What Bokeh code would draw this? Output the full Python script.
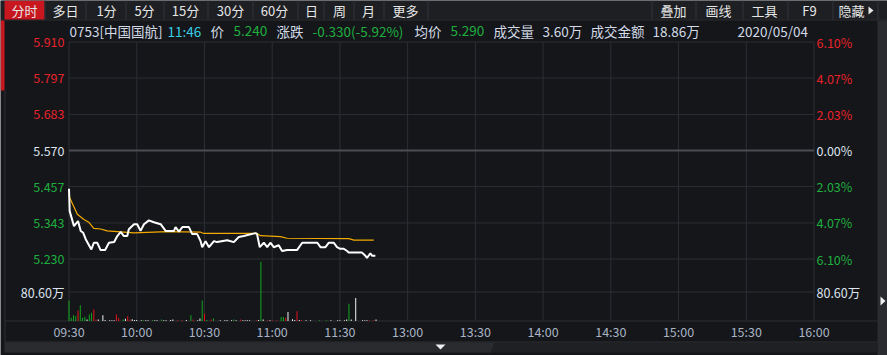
from bokeh.plotting import figure
from bokeh.models import Range1d
from bokeh.core.properties import value
from bokeh.embed import file_html
from bokeh.resources import INLINE

# ---------------- data ----------------
stock_title = "0753[中国国航]"
quote_time = "11:46"
last_price = "5.240"
change_text = "-0.330(-5.92%)"
avg_price_text = "5.290"
volume_text = "3.60万"
amount_text = "18.86万"
date_text = "2020/05/04"

tabs_left = ["分时", "多日", "1分", "5分", "15分", "30分", "60分", "日", "周", "月", "更多"]
tabs_right = ["叠加", "画线", "工具", "F9", "隐藏"]

prev_close = 5.570
price_ticks = [5.910, 5.797, 5.683, 5.570, 5.457, 5.343, 5.230]
price_tick_labels = ["5.910", "5.797", "5.683", "5.570", "5.457", "5.343", "5.230"]
pct_tick_labels = ["6.10%", "4.07%", "2.03%", "0.00%", "2.03%", "4.07%", "6.10%"]
vol_tick = 80.60
vol_tick_label = "80.60万"
time_labels = ["09:30", "10:00", "10:30", "11:00", "11:30", "13:00",
               "13:30", "14:00", "14:30", "15:00", "15:30", "16:00"]
time_minutes = [0, 30, 60, 90, 120, 150, 180, 210, 240, 270, 300, 330]

price_minute = [0, 0.3, 2.2, 4, 5.2, 6.3, 7.4, 9.9, 11, 12.5, 14, 16, 17.7, 20, 21.4,
                22.9, 24.3, 25.8, 26.5, 28.8, 30.2, 31.7, 33.2, 35.4, 37.6, 40.6, 42.8,
                46.5, 47.2, 48.7, 50.2, 53.1, 54.6, 56.8, 58.3, 59, 60.5, 62, 64.2, 65.6,
                70.1, 73, 75.2, 77.4, 82.6, 83.3, 84.5, 86.3, 87.8, 89.2, 90.7, 92.9,
                94.4, 96.6, 101, 103.3, 110, 111.4, 113.6, 115.1, 117.3, 118.7, 120.2,
                121.7, 123.2, 123.9, 129.8, 131.3, 132, 133.5, 134.3, 135.7]
price_value = [5.450, 5.380, 5.333, 5.349, 5.318, 5.312, 5.292, 5.260, 5.281, 5.281,
               5.258, 5.258, 5.281, 5.283, 5.302, 5.315, 5.302, 5.302, 5.323, 5.339,
               5.339, 5.318, 5.339, 5.351, 5.345, 5.339, 5.318, 5.318, 5.330, 5.316,
               5.330, 5.330, 5.308, 5.308, 5.286, 5.267, 5.286, 5.267, 5.286, 5.283,
               5.289, 5.283, 5.299, 5.302, 5.311, 5.308, 5.267, 5.281, 5.267, 5.281,
               5.267, 5.273, 5.255, 5.258, 5.258, 5.281, 5.281, 5.267, 5.267, 5.281,
               5.281, 5.267, 5.262, 5.262, 5.255, 5.250, 5.250, 5.240, 5.233, 5.248,
               5.240, 5.240]

avg_minute = [0, 0.3, 3.7, 6.6, 8.8, 11, 14, 16.9, 28.8, 43.5, 58.3, 59.7, 83.3, 84.8,
              93.6, 96.6, 124, 126.2, 135]
avg_value = [5.448, 5.422, 5.370, 5.354, 5.345, 5.326, 5.324, 5.318, 5.312, 5.316,
             5.314, 5.310, 5.310, 5.303, 5.300, 5.295, 5.294, 5.289, 5.289]

vol_minute = [0, 1, 2, 3, 4, 5, 6, 7, 8, 9, 10, 11, 12, 13, 15, 16, 18, 19, 20, 21, 22,
              24, 25, 26, 27, 28, 29, 30, 32, 33, 34, 35, 37, 38, 39, 41, 42, 43, 45, 46,
              48, 50, 52, 54, 55, 57, 58, 59, 60, 61, 63, 64, 67, 69, 70, 72, 73, 74, 76,
              77, 78, 79, 80, 83, 84, 85, 86, 88, 89, 90, 92, 94, 95, 96, 97, 99, 100,
              101, 102, 103, 105, 107, 111, 114, 116, 119, 120, 122, 123, 124, 125, 127,
              130, 131, 132, 133, 135, 136]
vol_value = [57, 9, 16, 14, 29, 44, 9, 12, 4, 18, 23, 32, 4, 4, 16, 3, 2, 2, 2, 18, 8,
             4, 6, 14, 4, 5, 3, 3, 2, 2, 2, 2, 2, 2, 2, 4, 2, 2, 3, 4,
             2, 2, 3, 16, 4, 2, 7, 57, 20, 3, 4, 7, 2, 2, 3, 2, 4, 2, 4,
             2, 2, 2, 2, 2, 3, 165, 4, 2, 2, 2, 2, 11, 11, 9, 25, 5, 3,
             27, 3, 3, 2, 2, 2, 2, 2, 2, 2, 2, 4, 48, 4, 64,
             2, 2, 2, 2, 2, 4]
# G = down minute, R = up minute, W = unchanged
vol_dir = [
    "G", "G", "G", "G", "R", "G", "G", "G", "W", "G", "G", "R", "R", "W", "W", "W", "W", "W", "W", "R", "R",
    "G", "W", "R", "R", "W", "W", "W", "W", "G", "W", "W", "G", "W", "W", "G", "W", "W", "W", "W",
    "R", "R", "W", "G", "R", "W", "W", "G", "R", "G", "R", "G", "W", "W", "W", "W", "G", "W", "R",
    "W", "W", "W", "W", "R", "W", "G", "W", "R", "W", "R", "R", "G", "G", "R", "W", "W", "W",
    "R", "W", "R", "W", "W", "G", "G", "W", "W", "W", "W", "W", "G", "W", "W",
    "W", "W", "W", "R", "R", "W"]

# ---------------- colours ----------------
BG = "#14161a"
BAR_BG = "#1d1f23"
LINE = "#2c2e33"
RED = "#e8222a"
GREEN = "#1fae3e"
WHITE_TXT = "#dfe4ee"
TAB_RED = "#c8171e"
FONT = value("Noto Sans CJK SC")

# ---------------- geometry (pixel layout) ----------------
W, H = 887, 355
X0, X1 = 68.5, 813.5            # minute 0 and minute 330
PY_TOP, PY_BOT = 41.5, 258.5    # price ticks[0] and ticks[-1]
VY0, VY1 = 320.5, 291.5         # volume 0 and vol_tick

t_per_px = 330.0 / (X1 - X0)
XS = -X0 * t_per_px
XE = (W - X0) * t_per_px
p_per_px = (price_ticks[0] - price_ticks[-1]) / (PY_BOT - PY_TOP)
PE = price_ticks[0] + PY_TOP * p_per_px
PS = price_ticks[0] - (H - PY_TOP) * p_per_px
v_per_px = vol_tick / (VY0 - VY1)
VS = -(H - VY0) * v_per_px
VE = VY0 * v_per_px


def dx(px):
    return XS + px * (XE - XS) / W


def dy(py):
    return PE - py * (PE - PS) / H


p = figure(width=W, height=H, x_range=Range1d(XS, XE), y_range=Range1d(PS, PE),
           x_axis_type=None, y_axis_type=None, toolbar_location=None,
           output_backend="svg", min_border=0, background_fill_color=BG,
           border_fill_color=BG, outline_line_color=None)
p.extra_y_ranges = {"vol": Range1d(VS, VE)}
p.grid.visible = False


def rect(x0, y0, x1, y1, color):
    p.quad(left=[dx(x0)], right=[dx(x1)], top=[dy(y0)], bottom=[dy(y1)],
           fill_color=color, line_color=None)


def hline(y, x0, x1, color=LINE, w=1):
    p.segment(x0=[dx(x0)], x1=[dx(x1)], y0=[dy(y)], y1=[dy(y)], line_color=color, line_width=w)


def vline(x, y0, y1, color=LINE, w=1):
    p.segment(x0=[dx(x)], x1=[dx(x)], y0=[dy(y0)], y1=[dy(y1)], line_color=color, line_width=w)


def txt(x, y, s, color, size="13px", align="left"):
    p.text(x=[dx(x)], y=[dy(y)], text=[s], text_color=color, text_font=FONT,
           text_font_size=size, text_align=align, text_baseline="middle")


# ---------------- top tab bar ----------------
rect(0, 0, W, 19, BAR_BG)
hline(19.5, 0, W, "#2a2c30")
rect(4, 0, 44, 19, TAB_RED)
for sx in [44.5, 85.5, 125.5, 163.5, 207.5, 252.5, 297.5, 323.5, 353.5, 383.5, 427.5,
           651.5, 695.5, 742.5, 787.5, 832.5, 877.5]:
    vline(sx, 0, 19, "#33353a")
left_centers = [24, 65, 106, 144, 185, 230, 274, 311, 339, 368, 405]
for cx, s in zip(left_centers, tabs_left):
    txt(cx, 10, s, "#e6e6e6", "13px", "center")
right_centers = [673, 718, 764, 809, 851]
for cx, s in zip(right_centers, tabs_right):
    txt(cx, 10, s, "#e6e6e6", "13px", "center")
p.patches(xs=[[dx(868), dx(868), dx(873)]], ys=[[dy(6), dy(14), dy(10)]],
          fill_color="#e6e6e6", line_color=None)

# left red marker and border
rect(0, 20, 4, 90, TAB_RED)
vline(4.5, 90, 341)

# right side strip
rect(877, 20, W, H, "#2b2c30")
p.patches(xs=[[dx(880), dx(880), dx(885)]], ys=[[dy(296), dy(305), dy(300.5)]],
          fill_color="#f0f0f0", line_color=None)

# bottom scroll strip
rect(4, 342, 877, 352, "#1f2024")
p.patches(xs=[[dx(4), dx(4), dx(490), dx(494)]], ys=[[dy(342), dy(352), dy(352), dy(342)]],
          fill_color="#2a2b2f", line_color=None)
p.patches(xs=[[dx(435), dx(445), dx(440)]], ys=[[dy(344), dy(344), dy(349)]],
          fill_color="#f0f0f0", line_color=None)
hline(341.5, 4, 877)
hline(320.5, 4, 877)

# ---------------- header row ----------------
txt(69, 30, stock_title, "#d3dae6", "13.5px")
txt(167, 30, quote_time, "#38cfe3", "13.5px")
txt(210, 30, "价", "#d3dae6", "13.5px")
txt(233, 30, last_price, GREEN, "13.5px")
txt(276, 30, "涨跌", "#d3dae6", "13.5px")
txt(312, 30, change_text, GREEN, "13.5px")
txt(414, 30, "均价", "#d3dae6", "13.5px")
txt(450, 30, avg_price_text, GREEN, "13.5px")
txt(493, 30, "成交量", "#d3dae6", "13.5px")
txt(542, 30, volume_text, "#d3dae6", "13.5px")
txt(590, 30, "成交金额", "#d3dae6", "13.5px")
txt(652, 30, amount_text, "#d3dae6", "13.5px")
txt(737, 30, date_text, "#d3dae6", "13.5px")

# ---------------- grid ----------------
x_lo, x_hi = time_minutes[0], time_minutes[-1]
for tm in time_minutes:
    p.segment(x0=[tm], x1=[tm], y0=[price_ticks[0]], y1=[dy(VY0)], line_color=LINE, line_width=1)
for pt in price_ticks:
    if pt == prev_close:
        p.segment(x0=[x_lo], x1=[x_hi], y0=[pt], y1=[pt], line_color="#4b4d52", line_width=2)
    else:
        p.segment(x0=[x_lo], x1=[x_hi], y0=[pt], y1=[pt], line_color=LINE, line_width=1)
p.segment(x0=[x_lo], x1=[x_hi], y0=[vol_tick], y1=[vol_tick], line_color=LINE,
          line_width=1, y_range_name="vol")

# ---------------- tick labels ----------------
for pt, lab, pct in zip(price_ticks, price_tick_labels, pct_tick_labels):
    col = RED if pt > prev_close else (GREEN if pt < prev_close else WHITE_TXT)
    p.text(x=[dx(64)], y=[pt], text=[lab], text_color=col, text_font=FONT,
           text_font_size="12.5px", text_align="right", text_baseline="middle")
    p.text(x=[dx(816)], y=[pt], text=[pct], text_color=col, text_font=FONT,
           text_font_size="12.5px", text_align="left", text_baseline="middle")
p.text(x=[dx(64)], y=[vol_tick], text=[vol_tick_label], text_color=WHITE_TXT, text_font=FONT,
       text_font_size="12.5px", text_align="right", text_baseline="middle", y_range_name="vol")
p.text(x=[dx(816)], y=[vol_tick], text=[vol_tick_label], text_color=WHITE_TXT, text_font=FONT,
       text_font_size="12.5px", text_align="left", text_baseline="middle", y_range_name="vol")
p.text(x=time_minutes, y=[dy(330.5)] * len(time_minutes), text=time_labels,
       text_color="#a9b3c4", text_font=FONT, text_font_size="12.5px",
       text_align="center", text_baseline="middle")

# ---------------- volume bars ----------------
cmap = {"G": "#12a81e", "R": "#e3131b", "W": "#f4f4f4"}
p.vbar(x=vol_minute, top=vol_value, bottom=0, width=t_per_px * 1.0,
       fill_color=[cmap[d] for d in vol_dir], line_color=None, y_range_name="vol")

# ---------------- price & average lines ----------------
p.line(avg_minute, avg_value, line_color="#f2a900", line_width=1.2)
p.line(price_minute, price_value, line_color="#ffffff", line_width=2)

open("out.html", "w").write(file_html(p, INLINE))
